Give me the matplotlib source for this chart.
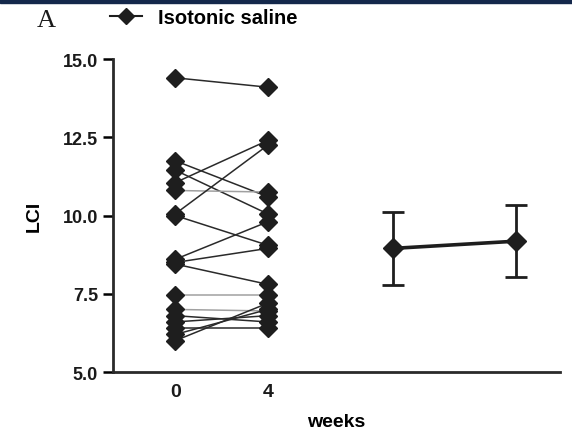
import matplotlib.pyplot as plt
from matplotlib.patches import Rectangle

plt.rcParams['font.family'] = ['Liberation Sans', 'DejaVu Sans']

# individual subjects, LCI at week 0 and week 4
week0 = [14.4, 11.75, 11.45, 11.05, 10.8, 10.05, 10.0, 8.6, 8.5, 8.45,
         7.45, 7.0, 6.8, 6.6, 6.4, 6.2, 6.0]
week4 = [14.1, 10.6, 10.05, 12.4, 10.75, 12.25, 9.05, 9.8, 8.95, 7.8,
         7.45, 6.95, 6.6, 6.8, 6.4, 7.0, 7.2]
grey_pairs = [4, 10, 11]

# group mean +/- sd
mean_x = [9.4, 14.7]
mean_y = [8.95, 9.18]
mean_err = [1.17, 1.16]

week_ticks = [0, 4]
y_ticks = [5.0, 7.5, 10.0, 12.5, 15.0]

fig = plt.figure(figsize=(5.72, 4.35), dpi=100)
ax = fig.add_axes([0.198, 0.1425, 0.781, 0.7195])

# dark band at the very top of the page
fig.add_artist(Rectangle((0, 0.99), 1, 0.01, transform=fig.transFigure,
                         color='#14284b', zorder=0))

for i, (a, b) in enumerate(zip(week0, week4)):
    col = '#a0a0a0' if i in grey_pairs else '#2a2a2a'
    ax.plot([0, 4], [a, b], color=col, lw=1.1, zorder=2)
ax.plot([0] * len(week0), week0, 'D', color='#1e1e1e', ms=9, zorder=3)
ax.plot([4] * len(week4), week4, 'D', color='#1e1e1e', ms=9, zorder=3)

ax.errorbar(mean_x, mean_y, yerr=mean_err, fmt='-D', color='#1e1e1e',
            ms=10.5, lw=2.6, elinewidth=2, capsize=8, capthick=2, zorder=3)

ax.set_xlim(-2.67, 16.6)
ax.set_ylim(5.0, 15.0)
ax.set_xticks(week_ticks)
ax.set_xticklabels([str(w) for w in week_ticks])
ax.set_yticks(y_ticks)
ax.set_yticklabels(['%.1f' % t for t in y_ticks])
ax.tick_params(axis='y', length=7, width=1.8, labelsize=13, pad=4)
ax.tick_params(axis='x', length=0, labelsize=14, pad=8)
for lab in ax.get_xticklabels() + ax.get_yticklabels():
    lab.set_fontweight('bold')
    lab.set_color('#1a1a1a')

for s in ['top', 'right']:
    ax.spines[s].set_visible(False)
for s in ['left', 'bottom']:
    ax.spines[s].set_linewidth(2)
    ax.spines[s].set_color('#2a2a2a')

ax.set_ylabel('LCI', fontsize=14, fontweight='bold', labelpad=14)
ax.set_xlabel('weeks', fontsize=14, fontweight='bold', labelpad=9)

h, = ax.plot([], [], '-D', color='#1e1e1e', ms=8, lw=1.5)
fig.legend([h], ['Isotonic saline'], loc='center left',
           bbox_to_anchor=(0.16, 0.958), frameon=False, handlelength=1.6,
           handletextpad=0.8, prop={'weight': 'bold', 'size': 14.5})

fig.text(0.065, 0.952, 'A', fontsize=19, family=['Liberation Serif'],
         ha='left', va='center', color='#1a1a1a')

fig.savefig('out.png', dpi=100)
